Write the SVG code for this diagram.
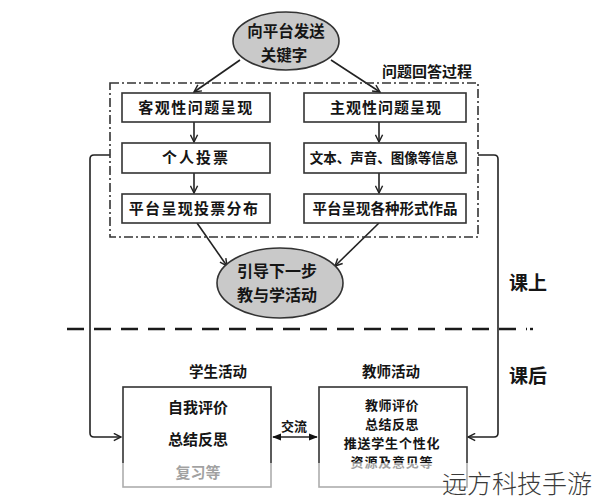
<svg xmlns="http://www.w3.org/2000/svg" width="593" height="500" viewBox="0 0 593 500">
<defs>
<style>
.t{font-family:"Noto Sans CJK SC","Noto Sans",sans-serif;font-weight:bold;fill:#151515;text-anchor:middle}
.box{fill:#fff;stroke:#333;stroke-width:1.6}
.ell{fill:#c9c9c9;stroke:#333;stroke-width:1.6}
.ln{fill:none;stroke:#222;stroke-width:1.6}
</style>
<marker id="ah" viewBox="0 0 10 10" refX="9" refY="5" markerWidth="9" markerHeight="9" markerUnits="userSpaceOnUse" orient="auto"><path d="M1,1 L9,5 L1,9" fill="none" stroke="#222" stroke-width="1.6"/></marker>
<marker id="fh" viewBox="0 0 10 10" refX="9" refY="5" markerWidth="9" markerHeight="9" markerUnits="userSpaceOnUse" orient="auto-start-reverse"><path d="M0,1 L10,5 L0,9 Z" fill="#111"/></marker>
</defs>
<rect width="593" height="500" fill="#fff"/>

<g id="connectors">
<line class="ln" x1="240" y1="60" x2="194" y2="92" marker-end="url(#ah)"/>
<line class="ln" x1="331" y1="60" x2="380" y2="92" marker-end="url(#ah)"/>
<line class="ln" x1="194" y1="122" x2="194" y2="142" marker-end="url(#ah)"/>
<line class="ln" x1="194" y1="173" x2="194" y2="193" marker-end="url(#ah)"/>
<line class="ln" x1="379" y1="122" x2="379" y2="142" marker-end="url(#ah)"/>
<line class="ln" x1="379" y1="173" x2="379" y2="193" marker-end="url(#ah)"/>
<line class="ln" x1="197" y1="223" x2="227" y2="266" marker-end="url(#ah)"/>
<line class="ln" x1="379" y1="223" x2="335" y2="266" marker-end="url(#ah)"/>
<path class="ln" d="M110,155 H94 Q90,155 90,159 V433 Q90,437 94,437 H121" marker-end="url(#ah)"/>
<path class="ln" d="M478,155 H494 Q498,155 498,159 V433 Q498,437 494,437 H468" marker-end="url(#ah)"/>
<line class="ln" x1="273" y1="437" x2="317" y2="437" marker-start="url(#fh)" marker-end="url(#fh)"/>
<line x1="67" y1="329" x2="527" y2="329" stroke="#1a1a1a" stroke-width="2.4" stroke-dasharray="17 10"/>
<line x1="530" y1="329" x2="533" y2="329" stroke="#1a1a1a" stroke-width="2.4"/>
</g>

<g id="group-process">
<rect x="110" y="83" width="368" height="154" fill="none" stroke="#333" stroke-width="1.6" stroke-dasharray="9 3 2 3"/>
<text class="t" x="427" y="77" font-size="15">问题回答过程</text>
</g>

<g id="n-start">
<ellipse class="ell" cx="286" cy="41" rx="53" ry="29"/>
<text class="t" x="286" y="37" font-size="15.5">向平台发送</text>
<text class="t" x="284" y="61" font-size="15.5">关键字</text>
</g>

<g id="n-obj">
<rect class="box" x="122" y="93" width="148" height="29"/>
<text class="t" x="196" y="113" font-size="15" letter-spacing="1.5">客观性问题呈现</text>
</g>
<g id="n-subj">
<rect class="box" x="304" y="93" width="162" height="29"/>
<text class="t" x="386" y="113" font-size="15" letter-spacing="1">主观性问题呈现</text>
</g>
<g id="n-vote">
<rect class="box" x="122" y="143" width="148" height="30"/>
<text class="t" x="196" y="163" font-size="15" letter-spacing="2">个人投票</text>
</g>
<g id="n-info">
<rect class="box" x="304" y="143" width="162" height="30"/>
<text class="t" x="384" y="163" font-size="13.5">文本、声音、图像等信息</text>
</g>
<g id="n-dist">
<rect class="box" x="122" y="194" width="148" height="29"/>
<text class="t" x="194" y="214" font-size="15" letter-spacing="1.3">平台呈现投票分布</text>
</g>
<g id="n-works">
<rect class="box" x="304" y="194" width="162" height="29"/>
<text class="t" x="385" y="214" font-size="14.5">平台呈现各种形式作品</text>
</g>

<g id="n-guide">
<ellipse class="ell" cx="280" cy="283" rx="63" ry="35"/>
<text class="t" x="277" y="277" font-size="16">引导下一步</text>
<text class="t" x="277" y="301" font-size="16">教与学活动</text>
</g>

<text class="t" x="528" y="290" font-size="19" font-weight="900">课上</text>
<text class="t" x="528" y="383" font-size="19" font-weight="900">课后</text>

<g id="n-student">
<rect class="box" x="123" y="387" width="148" height="100"/>
<text class="t" x="218" y="377" font-size="14.5">学生活动</text>
<text class="t" x="198" y="413" font-size="15">自我评价</text>
<text class="t" x="198" y="445" font-size="15">总结反思</text>
<text class="t" x="198" y="478" font-size="15">复习等</text>
</g>
<text class="t" x="294" y="431" font-size="13">交流</text>
<g id="n-teacher">
<rect class="box" x="319" y="387" width="148" height="100"/>
<text class="t" x="391" y="377" font-size="14.5">教师活动</text>
<text class="t" x="392" y="410" font-size="13" letter-spacing="0.5">教师评价</text>
<text class="t" x="392" y="429" font-size="13" letter-spacing="0.5">总结反思</text>
<text class="t" x="392" y="448" font-size="13" letter-spacing="0.8">推送学生个性化</text>
<text class="t" x="392" y="467" font-size="13" letter-spacing="0.8">资源及意见等</text>
</g>

<rect x="0" y="463" width="593" height="37" fill="#fff" opacity="0.6"/>
<text x="517" y="493" font-family="Noto Sans CJK SC,sans-serif" font-size="25" font-weight="300" fill="#3a3a3a" text-anchor="middle">远方科技手游</text>
</svg>
